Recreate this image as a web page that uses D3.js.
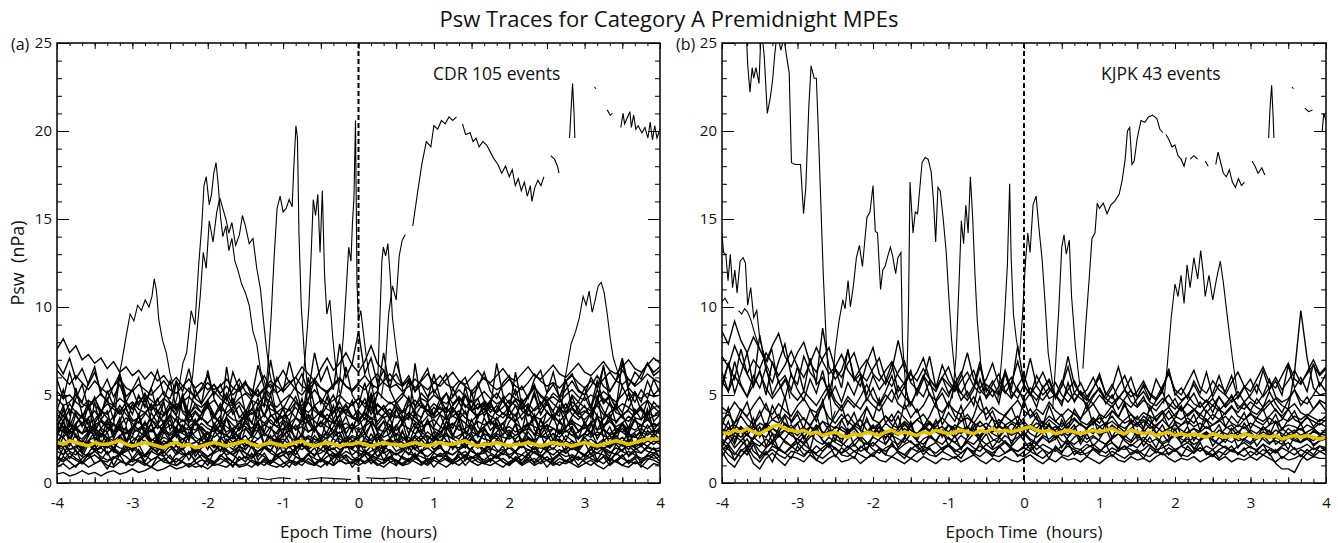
<!DOCTYPE html>
<html><head><meta charset="utf-8">
<script src="https://cdn.jsdelivr.net/npm/d3@7"></script>
<style>
body{margin:0;background:#fff}
svg{display:block}
text{font-family:"Open Sans",Lato,sans-serif;fill:#111}
</style>
</head><body>
<svg id="chart" width="1338" height="543"></svg>
<script>
// Axis ticks
const hourTicks = [-4, -3.5, -3, -2.5, -2, -1.5, -1, -0.5, 0, 0.5, 1, 1.5, 2, 2.5, 3, 3.5, 4];
const pswTicks = [0, 5, 10, 15, 20, 25];
const pswMinorTicks = [1,2,3,4,6,7,8,9,11,12,13,14,16,17,18,19,21,22,23,24];

// Regular traces are sampled every 5 minutes from -4 h to +4 h (97 samples)
const sampleStartHour = -4;
const sampleStepHours = 5 / 60;

// CDR events, Psw (nPa)
const cdrTraces = [
[0.9,1.1,0.8,1.0,1.2,0.9,1.1,1.3,1.0,0.9,1.2,1.1,1.0,1.3,1.1,0.9,1.2,1.4,1.1,1.0,1.2,0.9,1.1,1.3,1.2,1.0,1.1,1.4,1.2,0.9,1.0,1.3,1.1,1.2,1.0,0.9,1.1,1.3,1.2,1.0,1.4,1.1,0.9,1.2,1.0,1.3,1.1,1.2,1.0,1.2,1.4,1.1,0.9,1.2,1.3,1.0,1.1,1.4,1.2,1.0,1.3,1.1,0.9,1.2,1.0,1.3,1.5,1.2,1.1,1.0,1.2,1.4,1.1,1.3,1.0,1.2,1.4,1.1,1.3,1.0,1.2,1.1,1.3,1.5,1.2,1.0,1.3,1.1,1.4,1.2,1.0,1.3,1.1,1.2,1.4,1.3,1.1],
[0.5,0.6,0.4,0.5,0.7,0.5,0.6,0.4,0.6,0.7,0.5,0.6,0.8,0.6,0.7,0.9,0.7,0.8,1.0,0.8,0.9,1.1,0.9,1.0,0.8,1.1,1.0,0.9,1.2,1.0,1.1,0.9,1.2,1.0,1.3,1.1,0.9,1.2,1.0,1.3,1.1,1.0,1.4,1.2,1.0,1.3,1.1,1.2,1.4,1.1,1.3,1.0,1.2,1.5,1.3,1.1,1.4,1.2,1.0,1.3,1.5,1.2,1.4,1.1,1.3,1.6,1.2,1.4,1.1,1.3,1.5,1.2,1.0,1.3,1.1,1.4,1.2,1.6,1.3,1.1,1.4,1.2,1.5,1.3,1.6,1.4,1.2,1.5,1.3,1.7,1.4,1.2,1.5,1.3,1.6,1.4,1.5],
[1.5,1.3,1.7,1.4,1.2,1.6,1.8,1.5,1.3,1.4,1.7,1.5,1.2,1.4,1.6,1.3,1.5,1.8,1.4,1.2,1.5,1.7,1.3,1.6,1.4,1.2,1.5,1.9,1.6,1.3,1.5,1.4,1.7,1.5,1.2,1.4,1.6,1.8,1.5,1.3,1.6,1.4,1.2,1.5,1.7,1.4,1.6,1.3,1.5,1.8,1.6,1.4,1.3,1.5,1.7,1.4,1.2,1.6,1.5,1.3,1.4,1.7,1.5,1.3,1.6,1.8,1.4,1.5,1.3,1.6,1.4,1.7,1.5,1.3,1.6,1.4,1.8,1.5,1.3,1.4,1.7,1.5,1.6,1.4,1.3,1.5,1.7,1.6,1.4,1.2,1.5,1.8,1.6,1.4,1.5,1.7,1.5],
[1.8,1.6,1.9,2.1,1.7,1.5,1.8,2.0,1.7,1.9,1.6,1.8,2.0,1.7,1.5,1.8,1.6,1.9,2.2,1.8,1.6,1.7,2.0,1.8,1.5,1.7,1.9,1.6,1.8,2.1,1.7,1.5,1.8,2.0,1.9,1.6,1.8,1.7,2.0,2.2,1.8,1.6,1.9,1.7,1.5,1.8,2.1,1.9,1.7,1.6,1.8,2.0,1.7,1.9,1.6,1.8,2.2,1.9,1.7,1.5,1.8,2.0,1.7,1.6,1.9,2.1,1.8,1.6,1.7,2.0,1.8,1.9,1.6,1.8,2.1,1.9,1.7,1.5,1.8,2.0,1.7,1.9,2.2,1.8,1.6,1.9,1.7,2.0,1.8,1.6,1.9,2.1,1.8,1.7,2.0,1.9,1.8],
[2.1,2.3,1.9,2.0,2.4,2.2,1.8,2.1,2.5,2.2,2.0,1.9,2.3,2.1,2.4,2.0,1.8,2.2,2.5,2.1,1.9,2.3,2.0,2.2,2.4,2.1,1.9,2.0,2.3,2.6,2.2,2.0,1.8,2.1,2.4,2.2,2.0,2.3,2.1,1.9,2.2,2.5,2.3,2.0,2.2,1.9,2.1,2.4,2.2,2.0,2.3,2.1,1.9,2.4,2.2,2.6,2.3,2.0,2.1,2.3,1.9,2.2,2.4,2.1,2.0,2.3,2.5,2.2,1.9,2.1,2.4,2.2,2.0,2.3,2.1,2.5,2.2,2.0,1.9,2.3,2.1,2.4,2.2,2.0,2.3,2.5,2.2,2.0,2.1,2.4,2.2,1.9,2.3,2.1,2.4,2.6,2.3],
[2.0,2.2,2.5,2.3,2.1,2.4,2.6,2.2,2.0,2.3,2.5,2.1,2.4,2.7,2.3,2.1,2.5,2.2,2.4,2.8,2.5,2.2,2.3,2.6,2.4,2.1,2.5,2.7,2.3,2.6,2.4,2.2,2.5,2.8,2.6,2.3,2.5,2.2,2.4,2.7,2.5,2.3,2.6,2.9,2.5,2.3,2.4,2.7,2.5,2.8,2.4,2.6,2.3,2.5,2.8,2.6,2.4,2.7,2.5,2.9,2.6,2.4,2.7,2.5,2.3,2.6,2.9,2.7,2.5,2.4,2.8,2.6,2.5,2.7,3.0,2.6,2.4,2.7,2.5,2.8,2.6,3.0,2.7,2.5,2.8,2.6,2.9,2.7,2.5,2.8,3.1,2.7,2.6,2.9,2.7,3.0,2.8],
[2.8,2.6,3.0,2.7,2.5,2.9,3.1,2.8,2.6,2.4,2.7,2.9,2.6,2.4,2.8,2.5,2.3,2.6,2.4,2.2,2.5,2.7,2.4,2.2,2.5,2.3,2.1,2.4,2.6,2.3,2.1,2.4,2.2,2.0,2.3,2.5,2.2,2.0,2.3,2.1,1.9,2.2,2.4,2.1,1.9,2.2,2.0,2.3,2.1,2.4,2.2,2.0,2.3,2.5,2.2,2.4,2.6,2.3,2.5,2.7,2.4,2.6,2.8,2.5,2.7,2.9,2.6,2.8,3.0,2.7,2.5,2.8,3.0,2.7,2.9,3.1,2.8,2.6,2.9,3.1,2.8,3.0,2.7,2.9,3.2,2.9,2.7,3.0,2.8,3.1,2.9,2.6,2.9,3.1,2.8,3.0,2.9],
[3.2,2.9,3.4,3.1,2.8,3.0,3.3,3.5,3.1,2.9,3.2,3.0,2.8,3.1,3.4,3.0,2.7,3.0,3.3,3.1,2.9,3.2,3.5,3.1,2.8,3.0,3.3,2.9,3.1,3.4,3.2,2.9,3.0,3.3,3.1,2.8,3.1,3.4,3.0,3.2,2.9,3.1,3.5,3.2,3.0,2.8,3.1,3.3,3.0,3.2,3.5,3.1,2.9,3.2,3.0,3.3,3.1,2.8,3.0,3.4,3.1,2.9,3.2,3.4,3.0,3.1,3.3,2.9,3.2,3.5,3.1,3.0,3.2,2.9,3.1,3.4,3.2,3.0,3.3,3.1,2.9,3.2,3.4,3.0,3.1,3.3,3.0,3.2,3.5,3.1,2.9,3.2,3.0,3.3,3.1,3.4,3.2],
[3.6,3.2,3.0,3.4,3.8,3.3,3.1,3.5,3.2,2.9,3.3,3.7,3.4,3.0,3.3,3.6,3.1,3.4,3.9,3.5,3.2,3.0,3.4,3.7,3.3,3.1,3.5,3.2,2.9,3.4,3.8,3.4,3.1,3.3,3.6,3.2,3.0,3.4,3.7,3.3,3.5,3.1,3.4,3.9,3.5,3.2,3.4,3.1,3.3,3.7,3.4,3.1,3.5,3.3,3.0,3.4,3.8,3.5,3.2,3.4,3.6,3.2,3.0,3.3,3.7,3.4,3.1,3.5,3.3,3.6,3.2,3.4,3.8,3.4,3.1,3.3,3.6,3.2,3.5,3.9,3.4,3.2,3.5,3.3,3.1,3.4,3.7,3.3,3.6,3.2,3.4,3.8,3.5,3.3,3.6,3.2,3.4],
[3.9,3.5,4.2,3.8,3.4,3.7,4.1,3.6,3.3,3.8,4.4,3.9,3.5,3.7,4.0,3.6,3.3,3.9,4.3,3.8,3.5,3.7,4.1,3.7,3.4,3.8,4.5,3.9,3.6,3.5,3.9,4.2,3.7,3.4,3.8,4.0,3.6,3.9,4.3,3.8,3.5,3.7,4.1,3.6,3.4,3.9,4.4,3.8,3.6,4.0,3.7,3.5,3.9,4.2,3.8,3.6,4.0,3.7,3.4,3.8,4.3,3.9,3.6,3.8,4.1,3.7,3.5,3.9,4.2,3.8,3.6,4.0,3.7,3.5,3.9,4.3,3.8,3.6,4.0,3.7,3.5,3.9,4.2,3.8,3.6,4.0,4.4,3.9,3.7,3.5,3.9,4.1,3.7,3.6,4.0,3.8,3.9],
[5.2,4.8,5.0,4.6,4.3,4.7,4.4,4.1,4.5,4.2,3.9,4.3,4.6,4.2,4.0,4.4,4.1,3.8,4.2,4.5,4.1,3.9,4.3,4.0,4.4,4.7,4.2,4.0,4.3,4.6,4.1,3.9,4.2,4.5,4.2,4.0,4.3,4.1,4.6,4.3,4.0,4.4,4.7,4.2,4.0,4.3,4.1,4.5,4.8,4.3,4.1,4.4,4.2,4.6,4.3,4.0,4.4,4.7,4.3,4.1,4.5,4.2,4.0,4.4,4.8,4.4,4.1,4.3,4.6,4.2,4.0,4.3,4.7,4.4,4.2,4.5,4.1,4.4,4.9,4.5,4.2,4.0,4.3,4.6,4.3,4.1,4.5,4.8,4.4,4.2,4.5,4.3,4.0,4.4,4.7,4.3,4.4],
[4.8,4.4,4.6,5.0,4.5,4.3,4.7,5.1,4.6,4.4,4.8,4.5,4.2,4.6,5.0,4.7,4.4,4.8,4.5,4.2,4.6,4.9,4.5,4.3,4.7,5.2,4.8,4.5,4.4,4.8,5.1,4.7,4.5,4.9,4.6,4.3,4.7,5.0,4.6,4.4,4.8,5.3,4.8,4.5,4.7,5.0,4.6,4.4,4.8,4.5,4.9,5.2,4.8,4.5,4.7,5.1,4.7,4.4,4.8,4.6,5.0,4.7,4.5,4.9,5.3,4.9,4.6,4.8,5.2,4.8,4.5,4.7,5.1,4.8,4.6,4.9,5.4,5.0,4.7,4.9,4.6,5.0,5.3,4.9,4.7,5.0,4.8,5.2,4.9,4.6,5.0,5.4,5.0,4.8,5.1,4.9,5.0],
[6.4,6.0,5.6,6.1,5.7,5.3,5.8,5.4,5.1,5.5,5.9,5.4,5.2,5.6,5.3,5.0,5.4,5.8,5.3,5.1,5.5,5.2,4.9,5.3,5.7,5.3,5.5,5.9,5.4,5.2,5.6,5.3,5.0,5.4,5.8,5.5,5.2,5.6,6.0,5.5,5.3,5.7,5.4,5.1,5.5,5.9,5.5,5.2,5.6,5.3,5.8,6.2,5.7,5.4,5.6,5.2,5.5,5.9,5.6,5.3,5.7,6.1,5.6,5.4,5.8,5.5,5.2,5.6,6.0,5.6,5.3,5.5,5.9,5.5,5.3,5.7,6.2,5.8,5.5,5.7,5.4,5.8,6.1,5.7,5.4,5.8,5.5,5.9,6.3,5.8,5.6,5.9,5.5,5.8,6.2,5.9,5.7],
[7.6,8.2,7.4,7.8,7.0,7.3,6.8,7.1,6.5,6.9,6.3,6.6,6.1,6.4,5.9,6.3,5.8,6.1,5.6,6.0,5.5,5.9,5.4,5.7,5.3,5.6,5.1,5.5,5.0,5.4,5.7,5.2,4.9,5.3,5.6,5.1,5.4,5.8,5.3,5.0,5.5,5.9,5.4,5.2,5.6,6.0,5.5,5.3,5.7,6.1,5.6,5.4,5.8,6.2,5.7,5.5,5.9,5.4,5.8,6.2,5.7,5.5,5.9,6.3,5.8,5.6,6.0,6.4,5.9,5.7,6.1,6.5,6.0,5.8,6.2,6.6,6.1,5.9,6.3,6.7,6.2,6.0,6.4,6.8,6.3,6.1,6.5,6.9,6.4,6.2,6.6,7.0,6.5,6.3,6.7,7.1,6.8],
[2.4,2.7,3.5,2.6,2.3,2.8,4.6,3.0,2.5,2.7,3.1,2.4,2.6,3.9,2.8,2.4,2.7,3.3,2.5,2.9,5.1,3.2,2.6,2.4,2.8,3.0,2.5,3.7,2.9,2.6,2.3,2.7,4.3,2.8,2.5,2.9,3.4,2.6,2.4,2.8,5.6,3.1,2.7,2.5,2.9,3.6,2.7,2.4,2.6,3.0,4.8,2.9,2.6,2.8,3.3,2.5,2.7,4.1,2.9,2.6,2.4,2.8,3.5,2.7,2.5,3.0,5.3,3.2,2.8,2.6,2.9,3.4,2.7,2.5,2.9,4.5,3.0,2.7,2.6,3.1,2.8,3.8,2.9,2.6,2.8,3.2,5.0,3.1,2.7,2.9,3.4,2.8,2.6,3.0,4.2,3.0,2.8],
[3.3,3.8,3.5,5.4,3.9,3.4,3.6,4.1,3.7,3.3,6.2,4.2,3.6,3.4,3.9,4.5,3.8,3.5,3.7,5.8,4.0,3.6,3.4,3.9,4.3,3.7,3.5,6.6,4.4,3.8,3.6,4.0,3.7,5.2,3.9,3.5,3.8,4.2,3.7,3.5,6.0,4.3,3.8,3.6,4.0,4.6,3.9,3.7,3.5,4.1,5.7,4.0,3.7,3.9,4.4,3.8,3.6,6.8,4.5,3.9,3.7,4.0,4.3,3.8,3.6,5.5,4.1,3.8,4.0,4.6,3.9,3.7,4.1,6.3,4.4,3.9,3.7,4.2,4.7,4.0,3.8,5.9,4.3,3.9,4.1,3.8,4.5,6.7,4.6,4.0,3.8,4.2,5.1,4.1,3.9,4.3,4.0],
[1.9,2.2,1.8,1.6,2.0,2.3,1.9,1.7,2.1,1.8,1.6,1.9,2.2,1.8,1.6,2.0,1.7,1.5,1.9,2.1,1.7,1.6,1.9,1.7,1.5,1.8,2.1,1.8,1.6,1.9,1.7,1.5,1.8,2.0,1.7,1.5,1.8,1.6,1.9,2.2,1.8,1.6,1.7,2.0,1.7,1.5,1.8,1.6,1.9,1.7,1.5,1.8,2.1,1.8,1.6,1.9,1.7,1.5,1.8,2.0,1.7,1.5,1.8,1.6,1.9,2.2,1.8,1.6,1.9,1.7,1.5,1.8,2.0,1.7,1.6,1.9,1.7,2.1,1.8,1.6,1.9,1.7,2.0,1.8,1.6,1.9,2.2,1.9,1.7,2.0,1.8,1.6,1.9,2.1,1.8,1.7,1.9],
[3.1,2.9,3.3,3.0,2.8,3.2,2.9,2.7,3.1,3.4,3.0,2.8,3.1,2.9,2.7,3.0,3.3,2.9,2.7,3.0,2.8,2.6,2.9,3.2,2.8,2.6,2.9,2.7,2.5,2.8,3.1,2.7,2.5,2.8,2.6,2.4,2.7,3.0,2.6,2.4,2.7,2.5,2.3,2.6,2.9,2.5,2.3,2.6,2.4,2.2,2.5,2.8,2.4,2.2,2.5,2.3,2.1,2.4,2.7,2.3,2.1,2.4,2.2,2.0,2.3,2.6,2.2,2.0,2.3,2.1,2.4,2.2,2.0,2.3,2.5,2.1,1.9,2.2,2.0,2.3,2.5,2.1,1.9,2.2,2.4,2.1,1.9,2.2,2.0,2.3,2.6,2.2,2.0,2.3,2.1,2.4,2.2],
[4.2,3.8,4.5,4.0,3.7,4.3,4.8,4.1,3.9,4.4,4.0,4.6,4.2,4.9,4.4,4.1,4.7,5.2,4.6,4.3,4.9,5.4,4.8,4.5,5.1,5.6,5.0,4.7,5.3,5.9,5.2,4.9,5.5,6.1,5.4,5.8,6.4,5.7,6.0,6.6,6.2,5.8,6.5,7.1,6.4,6.8,7.4,6.7,6.3,6.9,7.8,6.8,6.4,5.8,6.2,5.5,5.9,5.2,5.6,4.9,5.3,4.7,5.1,4.5,4.9,4.3,4.7,4.2,4.6,4.0,4.4,3.9,4.3,4.7,4.1,3.8,4.2,4.6,4.0,3.7,4.1,4.5,3.9,3.6,4.0,4.4,3.8,3.6,4.0,4.3,3.7,3.5,3.9,4.2,3.6,3.8,4.1],
[1.4,1.2,1.5,1.3,1.1,1.4,1.6,1.3,1.2,1.5,1.3,1.1,1.4,1.2,1.0,1.3,1.5,1.2,1.1,1.4,1.2,1.0,1.3,1.6,1.3,1.1,1.4,1.2,1.0,1.3,1.5,1.2,1.0,1.3,1.1,1.4,1.6,1.3,1.1,1.4,1.2,1.0,1.3,1.1,1.4,1.7,1.3,1.1,1.4,1.2,1.5,1.3,1.1,1.4,1.2,1.0,1.3,1.5,1.2,1.1,1.4,1.6,1.3,1.1,1.3,1.5,1.2,1.0,1.2,1.4,1.1,0.9,1.2,1.4,1.1,1.3,1.0,1.2,1.5,1.2,1.0,1.3,1.1,0.9,1.1,1.3,1.0,0.8,1.1,1.3,1.0,0.9,1.2,1.0,0.8,1.1,1.0],
[2.3,2.0,2.6,2.2,1.9,2.4,2.1,2.8,2.3,2.0,2.5,2.2,1.9,2.3,2.7,2.2,2.0,2.4,2.1,1.8,2.3,2.9,2.4,2.1,2.3,2.0,2.6,2.2,1.9,2.4,2.7,2.2,2.0,2.3,2.1,2.5,2.9,2.3,2.0,2.2,2.6,2.1,1.9,2.4,2.2,2.7,2.3,2.0,2.4,2.1,2.8,2.3,2.0,2.5,2.2,1.9,2.3,2.6,2.2,2.0,2.4,2.9,2.4,2.1,2.3,2.0,2.5,2.2,1.9,2.4,2.7,2.2,2.0,2.4,2.1,2.6,2.3,2.0,2.5,2.8,2.3,2.1,2.4,2.2,2.6,2.2,2.0,2.4,2.7,2.3,2.1,2.5,2.2,2.8,2.4,2.2,2.5],
[2.9,3.2,2.8,3.1,3.4,3.0,2.7,3.1,2.9,3.3,3.0,2.8,3.2,3.5,3.1,2.9,3.3,3.0,2.8,3.2,3.6,3.2,3.0,3.4,3.1,2.9,3.3,3.7,3.3,3.0,3.4,3.1,3.5,3.9,3.4,3.2,3.6,3.3,3.1,3.5,3.9,3.5,3.2,3.6,3.4,3.8,4.2,3.7,3.5,3.9,3.6,4.0,4.4,3.9,3.7,4.1,3.8,4.2,4.6,4.1,3.9,4.3,4.0,4.4,4.9,4.4,4.1,4.5,4.2,4.7,5.1,4.6,4.3,4.8,4.5,5.0,5.5,4.9,4.6,5.1,4.8,5.3,5.8,5.2,5.0,5.5,6.1,5.5,5.2,5.8,6.4,5.9,5.6,6.2,6.8,6.3,6.6],
[1.2,2.0,1.4,1.9,1.1,1.7,2.2,1.3,1.8,1.0,1.6,2.1,1.4,1.9,1.2,1.8,2.3,1.5,1.1,1.7,2.0,1.3,1.9,1.4,1.0,1.8,2.2,1.5,1.2,1.9,1.4,2.1,1.3,1.7,1.1,1.8,2.2,1.4,1.9,1.2,1.6,2.0,1.3,1.8,1.1,1.7,2.3,1.5,1.2,1.9,1.4,2.0,1.3,1.8,1.0,1.6,2.1,1.4,1.9,1.2,1.7,2.2,1.5,1.1,1.8,1.3,2.0,1.5,1.9,1.2,1.7,2.1,1.4,1.8,1.1,1.6,2.2,1.4,1.9,1.3,1.7,2.0,1.2,1.8,1.5,2.1,1.3,1.9,1.2,1.7,2.3,1.5,1.8,1.1,1.6,2.0,1.4],
[2.0,3.1,2.4,3.3,1.9,2.7,3.4,2.2,2.9,1.8,2.6,3.2,2.1,2.8,3.5,2.3,1.9,2.9,2.4,3.2,2.0,2.7,3.6,2.5,1.9,2.8,3.3,2.2,2.9,2.0,3.1,2.6,3.4,2.1,2.7,1.9,2.9,3.5,2.3,2.8,2.0,3.2,2.4,2.9,3.6,2.2,2.6,2.0,3.0,2.5,3.4,2.1,2.8,3.3,2.3,3.0,1.9,2.7,3.5,2.4,2.9,2.1,3.2,2.6,3.6,2.3,2.8,2.0,3.1,2.5,3.4,2.2,2.7,3.3,2.1,2.9,2.4,3.6,2.7,2.2,3.0,2.4,3.2,2.0,2.8,3.5,2.5,3.1,2.2,2.9,3.4,2.3,2.8,2.1,3.0,2.6,3.1],
[3.0,4.2,2.8,3.9,3.2,4.4,2.9,3.6,4.1,2.7,3.5,4.3,3.1,3.8,2.8,4.0,3.4,4.6,3.0,3.7,2.9,4.1,3.3,3.9,4.5,3.2,2.8,3.8,4.2,3.0,3.6,4.7,3.3,2.9,3.9,3.4,4.3,3.0,3.7,4.8,3.4,2.9,4.0,3.5,4.4,3.1,3.8,2.9,4.1,3.6,4.9,3.3,3.8,2.9,4.2,3.5,4.0,3.1,3.7,4.6,3.2,3.9,3.0,4.3,3.6,4.1,2.9,3.8,4.5,3.3,3.7,3.0,4.2,3.5,4.8,3.2,3.9,2.9,4.1,3.6,4.4,3.1,3.8,4.3,3.3,4.0,3.0,3.7,4.6,3.4,3.9,3.1,4.2,3.6,4.7,3.5,3.9],
[4.1,5.3,3.9,4.8,5.6,4.2,4.9,3.8,5.2,4.4,6.1,4.6,3.9,5.0,4.3,5.4,4.0,4.7,5.8,4.2,4.9,3.9,5.3,4.5,6.4,4.8,4.1,5.1,4.4,5.6,4.0,4.8,5.3,4.3,7.0,5.1,4.2,4.9,5.5,4.1,4.7,5.9,4.5,5.2,4.0,4.8,6.6,5.0,4.4,5.7,4.2,5.0,7.4,5.3,4.5,4.9,5.8,4.3,5.1,4.7,6.2,4.8,4.1,5.4,4.6,5.0,4.2,5.7,4.7,4.3,6.8,5.0,4.5,5.3,4.2,4.9,5.6,4.4,5.1,6.3,4.8,4.2,5.0,4.6,5.4,4.3,5.8,4.6,5.0,4.2,6.9,5.2,4.6,5.3,4.8,5.9,5.1],
[1.0,1.5,1.2,0.9,1.4,1.7,1.1,1.3,0.8,1.4,1.6,1.0,1.3,1.7,1.1,0.9,1.5,1.2,1.6,1.0,1.3,1.8,1.2,0.9,1.4,1.1,1.6,1.3,0.9,1.5,1.2,1.7,1.0,1.4,1.1,1.6,1.2,0.9,1.5,1.3,1.7,1.1,1.4,1.0,1.6,1.2,1.5,0.9,1.3,1.6,1.1,1.4,1.8,1.2,1.0,1.5,1.3,1.7,1.1,1.4,0.9,1.3,1.6,1.2,1.5,1.0,1.4,1.7,1.1,1.3,1.6,1.2,1.0,1.5,1.3,1.7,1.1,1.4,0.9,1.3,1.6,1.2,1.5,1.0,1.4,1.7,1.2,1.5,1.0,1.3,1.6,1.1,1.4,0.9,1.3,1.6,1.2],
[2.6,3.5,2.3,3.2,2.8,3.7,2.4,3.1,3.6,2.5,3.3,2.2,3.0,3.8,2.7,3.4,2.3,3.1,3.6,2.6,3.2,2.4,3.5,2.9,2.3,3.3,3.8,2.7,3.1,2.5,3.6,2.8,3.4,2.2,3.0,3.7,2.6,3.3,2.4,3.9,2.9,3.2,2.5,3.6,2.7,3.4,2.3,3.1,3.8,2.8,3.3,2.4,3.0,3.7,2.6,3.5,2.2,3.2,2.9,3.6,2.5,3.1,3.9,2.7,3.3,2.4,3.6,2.8,3.2,2.5,3.7,3.0,2.6,3.4,2.3,3.1,3.8,2.7,3.3,2.4,3.6,2.9,3.2,2.5,3.5,2.8,3.9,2.6,3.2,2.4,3.4,3.0,3.7,2.7,3.3,2.8,3.2],
[3.5,4.4,3.2,4.1,3.7,4.6,3.4,4.0,4.8,3.6,4.2,3.3,4.5,3.8,4.9,3.5,4.1,3.3,4.4,3.9,4.7,3.4,4.0,3.6,4.6,3.9,3.3,4.3,4.8,3.7,4.1,3.4,4.5,3.8,5.0,3.6,4.2,3.5,4.6,4.0,3.4,4.4,3.8,4.9,3.6,4.3,3.9,4.7,3.5,4.1,5.1,3.9,4.4,3.6,4.2,3.4,4.7,4.0,3.7,4.5,3.9,4.8,3.6,4.3,3.8,5.0,4.1,3.7,4.5,3.5,4.2,4.9,3.8,4.4,3.6,4.1,5.2,3.9,4.6,3.7,4.3,3.8,4.9,4.0,4.4,3.7,4.8,4.1,3.6,4.5,4.0,5.1,3.9,4.3,3.8,4.6,4.2],
[1.9,2.6,2.1,2.8,1.7,2.4,2.9,2.0,2.5,1.8,2.7,2.2,1.8,2.5,3.0,2.1,2.6,1.9,2.4,2.8,2.0,2.3,1.7,2.6,2.9,2.2,1.8,2.5,2.1,2.7,1.9,2.4,3.0,2.2,1.8,2.6,2.3,2.8,1.9,2.5,2.0,2.7,2.3,1.8,2.6,2.9,2.1,2.4,1.9,2.6,2.2,2.8,1.8,2.4,2.1,2.9,2.3,1.9,2.5,2.0,2.7,2.2,2.9,1.9,2.4,2.0,2.6,2.3,2.8,1.8,2.5,2.1,2.9,2.3,2.0,2.6,2.2,2.8,1.9,2.5,2.1,2.7,2.4,1.9,2.6,2.9,2.2,2.5,2.0,2.7,2.3,2.9,2.1,2.6,2.4,2.8,2.5],
[5.9,4.8,6.3,5.1,4.6,5.7,6.6,5.0,4.7,5.5,6.2,4.9,5.3,6.0,4.6,5.4,6.4,5.0,4.8,5.8,5.2,6.5,4.9,5.4,6.1,5.0,5.6,4.7,6.3,5.3,5.8,4.9,6.7,5.4,5.0,6.0,5.2,6.9,5.5,6.2,5.1,7.4,5.8,6.6,5.3,7.9,6.0,6.8,8.6,6.2,7.1,5.7,6.4,5.4,6.9,5.6,6.1,5.2,5.9,6.5,5.1,5.7,6.2,4.9,5.6,6.0,5.0,5.4,6.3,5.2,4.8,5.7,6.1,5.0,5.5,4.8,5.9,6.4,5.1,5.6,4.9,5.8,6.2,5.3,5.0,6.0,5.4,6.6,5.2,5.8,7.1,5.5,6.3,5.9,6.8,6.1,6.4],
[2.8,3.6,2.5,3.3,3.9,2.7,3.2,2.6,3.5,2.9,3.7,2.4,3.1,3.8,2.7,3.4,2.5,3.2,3.9,2.8,3.3,2.6,3.6,3.0,2.5,3.4,2.9,3.7,2.6,3.1,4.0,2.8,3.5,2.7,3.2,2.5,3.6,2.9,3.3,2.6,3.8,3.0,3.5,2.7,3.2,3.9,2.8,3.4,2.6,3.3,3.7,2.9,3.5,2.5,3.2,3.8,2.8,3.4,2.7,3.6,3.0,2.6,3.5,3.1,3.9,2.8,3.3,2.6,3.7,3.0,3.4,2.7,3.5,3.9,2.9,3.3,2.7,3.6,3.0,3.8,2.8,3.2,3.6,2.9,3.4,2.7,3.7,3.1,3.9,2.9,3.3,2.8,3.6,3.2,3.8,3.0,3.5],
[2.1,1.6,2.3,1.8,1.5,2.2,1.9,2.4,1.6,2.0,1.7,2.3,1.8,2.2,1.5,2.0,2.4,1.7,2.1,1.6,1.9,2.3,1.5,2.0,2.2,1.7,2.4,1.8,1.6,2.1,1.9,2.3,1.5,2.0,1.8,2.4,1.7,2.1,1.6,2.2,1.9,1.5,2.3,1.8,2.0,1.6,2.2,1.9,2.4,1.7,2.1,1.5,1.9,2.3,1.8,2.0,1.6,2.2,1.7,2.4,1.9,2.1,1.6,2.3,1.8,1.5,2.0,2.2,1.7,2.4,1.9,1.6,2.1,1.8,2.3,1.6,2.0,1.7,2.2,1.9,2.4,1.7,2.0,1.8,2.3,1.6,2.1,1.9,1.5,2.2,1.8,2.4,2.0,1.7,2.1,1.9,2.0],
[6.8,6.2,7.1,5.9,6.5,5.6,6.3,5.2,5.9,4.9,5.6,4.6,5.3,4.4,5.1,4.2,4.8,3.9,4.6,4.1,5.0,3.8,4.5,4.0,4.7,3.7,4.3,4.9,3.9,4.4,3.6,4.2,4.8,3.8,4.5,4.0,3.7,4.3,4.9,3.9,4.6,4.1,3.8,4.4,5.0,4.0,4.5,3.7,4.2,4.8,3.9,4.5,4.1,3.7,4.6,4.0,4.9,3.8,4.4,4.1,3.8,4.5,5.1,4.0,4.6,3.9,4.3,4.8,3.8,4.4,4.0,4.7,4.1,3.8,4.6,4.2,5.0,3.9,4.5,4.1,4.8,4.0,4.6,4.3,4.9,4.2,5.3,4.5,4.9,4.3,5.5,4.7,5.2,4.6,5.8,5.0,5.4]
];

// CDR bursts and gapped traces: [hour, Psw]; null marks a data gap
const cdrBursts = [
[[-3.2,5.6],[-3.14,6.9],[-3.08,8.4],[-3.03,9.6],[-2.98,9.2],[-2.93,10.1],[-2.88,9.8],[-2.83,10.4],[-2.78,10.0],[-2.74,10.6],[-2.71,11.6],[-2.68,10.9],[-2.65,9.3],[-2.6,8.1],[-2.55,7.4],[-2.5,6.2],[-2.44,5.3]],
[[-2.45,4.2],[-2.4,5.0],[-2.33,6.8],[-2.28,7.4],[-2.22,9.8],[-2.17,9.0],[-2.12,12.4],[-2.08,14.6],[-2.05,16.9],[-2.02,17.4],[-1.98,15.8],[-1.95,16.4],[-1.92,17.6],[-1.89,18.2],[-1.86,16.9],[-1.83,15.1],[-1.8,14.0],[-1.76,14.6],[-1.72,13.2],[-1.68,13.9],[-1.64,12.6],[-1.6,12.1],[-1.55,11.3],[-1.5,10.8],[-1.45,10.1],[-1.4,8.6],[-1.35,7.9],[-1.3,6.4],[-1.25,5.8],[-1.2,4.9],[-1.15,5.3],[-1.1,4.1]],
[[-2.3,3.6],[-2.25,4.8],[-2.2,6.1],[-2.15,8.3],[-2.1,10.6],[-2.06,13.1],[-2.02,12.2],[-1.98,14.9],[-1.93,13.7],[-1.88,15.4],[-1.84,16.2],[-1.8,15.6],[-1.76,15.0],[-1.72,14.2],[-1.68,14.8],[-1.63,13.5],[-1.58,14.1],[-1.54,15.2],[-1.5,14.6],[-1.45,13.6],[-1.4,13.9],[-1.35,12.2],[-1.3,11.0],[-1.26,9.2],[-1.22,7.6],[-1.18,6.3],[-1.12,5.1]],
[[-1.25,4.4],[-1.2,6.7],[-1.16,9.4],[-1.12,12.8],[-1.08,15.6],[-1.04,16.3],[-1.0,15.4],[-0.96,15.6],[-0.92,16.1],[-0.88,15.7],[-0.86,17.8],[-0.83,20.3],[-0.81,19.6],[-0.79,14.2],[-0.76,10.1],[-0.72,7.4],[-0.68,5.6],[-0.62,4.8]],
[[-0.75,5.2],[-0.7,7.6],[-0.66,9.9],[-0.63,12.8],[-0.6,16.1],[-0.57,15.2],[-0.54,16.4],[-0.51,13.1],[-0.48,16.6],[-0.45,11.8],[-0.42,9.6],[-0.38,10.4],[-0.34,8.2],[-0.3,6.5],[-0.25,5.1]],
[[-0.3,4.6],[-0.25,5.8],[-0.2,8.4],[-0.16,11.2],[-0.13,13.4],[-0.1,12.6],[-0.08,14.8],[-0.06,16.2],[-0.04,20.6],[-0.02,11.3],[0.0,9.2],[0.03,9.8],[0.06,8.7],[0.1,7.3],[0.14,6.2],[0.2,5.4]],
[[0.2,3.9],[0.25,5.2],[0.28,8.9],[0.31,12.6],[0.33,13.4],[0.36,12.9],[0.39,13.6],[0.42,11.8],[0.45,9.4],[0.5,7.6],[0.55,6.1],[0.6,5.0]],
[[0.3,4.8],[0.35,6.2],[0.4,9.6],[0.45,11.2],[0.5,10.4],[0.54,12.9],[0.58,13.8],[0.62,14.1],null,[0.72,14.6],[0.78,16.4],[0.84,18.1],[0.9,19.4],[0.96,19.1],[1.0,20.3],[1.05,20.1],[1.1,20.6],[1.15,20.4],[1.2,20.8],[1.25,20.6],[1.3,20.8],null,[1.38,20.4],[1.42,19.8],[1.48,19.9],[1.52,19.4],[1.56,19.6],[1.6,19.1],[1.65,19.4],[1.7,19.2],[1.75,18.8],[1.8,18.4],[1.85,18.1],[1.9,17.6],[1.95,18.0],[2.0,17.4],[2.04,17.8],[2.08,16.9],[2.12,17.3],[2.16,16.6],[2.2,17.1],[2.24,16.3],[2.28,16.9],[2.3,16.0],[2.34,16.8],[2.38,17.2],[2.42,16.9],[2.46,17.4],null,[2.55,18.6],[2.6,18.4],[2.64,18.0],[2.66,17.6],null,[2.8,19.6],[2.82,21.2],[2.84,22.7],[2.86,21.0],[2.87,19.6],null,[3.13,22.5],[3.15,22.4],null,[3.3,21.2],[3.34,20.9],[3.37,21.0],null,[3.48,20.2],[3.51,21.0],[3.53,20.4],[3.56,20.7],[3.6,21.1],[3.62,20.2],[3.65,20.9],[3.68,20.1],[3.71,20.3],[3.76,19.9],[3.8,20.2],[3.84,19.6],[3.87,20.5],[3.9,19.5],[3.93,20.3],[3.96,19.6],[4.0,20.1]],
[[2.7,5.1],[2.76,6.4],[2.82,7.9],[2.88,8.6],[2.93,9.4],[2.98,10.6],[3.02,10.1],[3.06,10.9],[3.1,9.7],[3.14,10.4],[3.18,11.2],[3.22,11.4],[3.26,10.8],[3.3,9.6],[3.34,8.2],[3.38,7.1],[3.44,6.3],[3.5,5.4]],
[[-1.6,0.3],[-1.5,0.25],null,[-1.35,0.3],[-1.2,0.2],[-1.05,0.3],[-0.9,0.25],null,[-0.7,0.2],[-0.5,0.3],[-0.3,0.25],[-0.1,0.2],null,[0.1,0.3],[0.3,0.25],[0.5,0.3],[0.7,0.2],null,[0.85,0.25],[0.95,0.3]]
];

// CDR median trace
const cdrMedian = [2.3,2.2,2.4,2.3,2.2,2.1,2.3,2.2,2.2,2.3,2.4,2.2,2.1,2.2,2.3,2.2,2.1,2.0,2.2,2.3,2.1,2.2,2.0,2.1,2.2,2.3,2.2,2.1,2.2,2.3,2.4,2.2,2.1,2.2,2.3,2.2,2.1,2.2,2.3,2.4,2.2,2.1,2.2,2.3,2.2,2.1,2.2,2.2,2.3,2.2,2.1,2.2,2.3,2.2,2.2,2.1,2.2,2.3,2.2,2.1,2.2,2.3,2.2,2.2,2.3,2.4,2.2,2.1,2.2,2.2,2.3,2.2,2.1,2.2,2.2,2.3,2.2,2.1,2.2,2.3,2.2,2.2,2.1,2.2,2.3,2.2,2.1,2.2,2.3,2.4,2.3,2.2,2.3,2.4,2.5,2.5,2.5];

// KJPK events, Psw (nPa)
const kjpkTraces = [
[1.8,1.2,0.9,1.5,1.9,1.1,0.8,1.4,1.7,1.3,1.0,1.5,1.4,1.2,1.6,1.3,1.1,1.4,1.6,1.2,1.3,1.5,1.1,1.4,1.6,1.3,1.2,1.5,1.3,1.1,1.4,1.2,1.5,1.3,1.1,1.4,1.3,1.5,1.2,1.4,1.6,1.3,1.1,1.4,1.2,1.5,1.3,1.2,1.4,1.6,1.3,1.1,1.4,1.2,1.5,1.3,1.4,1.2,1.5,1.3,1.1,1.4,1.6,1.3,1.2,1.5,1.3,1.4,1.2,1.5,1.7,1.4,1.2,1.4,1.3,1.5,1.2,1.4,1.6,1.3,1.5,1.2,1.4,1.3,1.5,1.3,1.6,1.4,1.2,1.5,1.3,1.4,1.6,1.3,1.5,1.4,1.4],
[2.0,1.6,1.3,1.8,2.1,1.5,1.2,1.7,1.9,1.6,1.4,1.8,1.7,1.5,1.9,1.6,1.4,1.7,2.0,1.6,1.5,1.8,1.6,1.4,1.7,1.9,1.6,1.5,1.8,1.6,1.4,1.7,1.9,1.6,1.5,1.8,1.6,1.4,1.7,2.0,1.7,1.5,1.8,1.6,1.5,1.7,1.9,1.6,1.5,1.8,1.6,1.4,1.7,1.9,1.6,1.5,1.8,1.6,1.7,1.9,1.6,1.5,1.8,1.6,1.4,1.7,1.9,1.6,1.5,1.8,1.6,1.7,1.9,1.6,1.5,1.8,2.0,1.7,1.5,1.8,1.6,1.9,1.7,1.5,1.8,1.6,1.9,1.7,1.1,0.8,0.8,0.6,1.3,1.7,1.5,1.8,1.6],
[1.9,2.2,1.7,1.5,2.0,2.3,1.8,1.6,2.1,1.9,1.7,2.0,2.3,1.9,1.7,2.1,1.8,2.2,2.0,1.7,1.9,2.2,1.8,2.0,2.3,2.0,1.8,2.1,1.9,2.2,2.4,2.0,1.8,2.1,2.3,1.9,2.1,1.8,2.0,2.3,2.0,1.8,2.2,1.9,2.1,2.4,2.0,1.8,2.1,2.3,1.9,2.2,2.0,1.8,2.1,2.4,2.0,1.9,2.2,2.0,1.8,2.1,2.3,2.0,1.9,2.2,2.0,2.4,2.1,1.9,2.0,2.2,1.9,2.1,2.3,2.0,1.8,2.1,1.9,2.2,2.0,1.8,2.1,2.3,2.0,1.9,2.2,2.0,1.8,2.1,2.3,1.9,2.0,2.2,1.9,2.1,2.0],
[2.5,2.2,2.7,2.4,2.1,2.6,2.3,2.0,2.4,2.8,2.3,2.1,2.5,2.2,2.6,2.9,2.4,2.2,2.5,2.3,2.0,2.4,2.7,2.3,2.1,2.5,2.8,2.4,2.2,2.6,2.3,2.1,2.5,2.7,2.4,2.2,2.6,2.3,2.0,2.4,2.8,2.5,2.2,2.4,2.6,2.3,2.1,2.5,2.8,2.4,2.2,2.6,2.3,2.5,2.9,2.4,2.2,2.5,2.3,2.6,2.4,2.2,2.5,2.8,2.4,2.1,2.4,2.6,2.3,2.5,2.2,2.4,2.7,2.3,2.5,2.2,2.4,2.8,2.4,2.2,2.5,2.3,2.6,2.4,2.2,2.5,2.7,2.3,2.4,2.2,2.6,2.4,2.3,2.5,2.2,2.4,2.5],
[3.0,2.6,2.8,3.2,2.7,2.5,2.9,3.3,2.8,2.6,3.0,2.7,2.5,2.9,3.2,2.8,2.6,3.0,2.7,2.5,2.8,3.1,2.7,2.9,3.3,2.8,2.6,2.9,2.7,3.1,2.8,2.6,3.0,3.4,2.9,2.7,2.9,2.6,3.0,3.2,2.8,2.7,3.1,2.8,2.6,3.0,2.7,2.9,3.2,2.8,2.6,2.9,3.3,2.9,2.7,3.0,2.8,2.6,2.9,3.1,2.7,2.9,3.2,2.8,2.6,3.0,2.7,2.9,3.3,2.8,2.7,3.0,2.8,2.6,2.9,3.1,2.7,2.9,2.6,3.0,2.8,2.7,2.9,3.2,2.8,2.6,2.9,2.7,3.0,2.8,2.6,2.9,3.1,2.7,2.9,2.8,2.7],
[3.5,3.1,3.4,3.8,3.3,3.0,3.4,3.2,3.6,3.9,3.3,3.1,3.4,3.7,3.2,3.0,3.5,3.3,3.1,3.6,3.9,3.4,3.2,3.5,3.1,3.4,3.8,3.3,3.1,3.5,3.2,3.6,3.3,3.0,3.4,3.7,3.3,3.1,3.5,3.9,3.4,3.2,3.4,3.1,3.6,3.3,3.5,3.8,3.3,3.1,3.4,3.2,3.6,3.3,3.0,3.4,3.7,3.3,3.1,3.5,3.2,3.4,3.8,3.3,3.1,3.4,3.2,3.5,3.1,3.3,3.6,3.2,3.0,3.3,3.5,3.2,3.4,3.1,3.3,3.6,3.2,3.0,3.3,3.1,3.4,3.2,3.0,3.3,3.5,3.1,3.3,3.2,3.0,3.3,3.1,3.4,3.2],
[5.8,5.2,6.1,5.5,4.9,5.6,6.3,5.4,4.8,5.3,5.9,5.1,4.7,5.2,4.8,4.4,5.0,5.6,4.7,4.3,4.9,4.5,4.2,4.8,4.4,4.1,4.7,5.3,4.5,4.2,4.6,4.0,4.4,5.1,4.3,4.0,4.5,4.1,3.9,4.4,4.9,4.2,3.9,4.3,4.0,3.8,4.3,4.7,4.1,3.8,4.2,3.9,4.6,4.1,3.8,4.2,3.9,3.7,4.1,4.5,3.9,3.7,4.1,3.8,4.4,3.9,3.6,4.0,3.8,3.6,4.0,4.3,3.8,3.6,3.9,4.2,3.7,3.5,3.9,3.6,4.0,4.4,3.8,3.6,3.9,3.7,3.5,3.8,4.2,3.7,3.5,3.8,3.6,3.9,3.7,3.5,3.8],
[7.2,6.6,7.8,6.9,6.2,7.0,6.5,7.4,6.8,6.1,6.7,7.5,6.6,6.0,6.8,7.7,6.9,6.2,6.6,7.3,6.4,5.9,6.5,7.0,6.2,5.8,6.4,6.9,6.1,5.6,6.2,5.8,6.5,5.9,5.4,6.0,5.6,5.2,5.8,6.3,5.5,5.1,5.6,5.3,5.0,5.5,6.0,5.2,4.9,5.4,5.0,4.7,5.2,5.7,5.0,4.6,5.1,4.8,4.5,5.0,5.4,4.8,4.5,4.9,4.6,4.3,4.8,5.2,4.6,4.4,4.8,4.5,4.2,4.6,5.0,4.5,4.3,4.7,4.4,4.1,4.5,4.9,4.4,4.2,4.6,4.3,4.1,4.5,4.8,4.4,4.2,6.3,9.8,7.1,5.4,5.0,5.1],
[5.4,6.8,5.9,7.6,6.2,5.5,8.4,6.4,5.7,6.9,7.9,6.1,5.6,7.2,6.3,5.8,8.8,6.6,5.9,6.4,7.5,6.0,5.5,6.8,7.7,6.2,5.6,6.4,8.1,6.5,5.8,6.3,7.1,5.9,5.4,6.7,5.8,5.3,6.1,7.4,5.9,5.4,5.9,6.8,5.6,5.1,5.7,6.9,5.5,5.0,5.6,6.3,5.4,4.9,5.5,7.2,5.6,5.0,5.3,6.0,5.2,4.8,5.4,6.6,5.3,4.9,5.2,5.8,5.0,4.7,5.3,6.4,5.1,4.7,5.0,5.6,4.9,4.6,5.1,6.1,5.0,4.6,4.9,5.5,4.8,4.5,5.0,5.9,4.9,4.6,4.8,5.3,4.7,4.5,5.0,5.7,5.2],
[3.6,3.9,3.4,4.2,3.7,3.3,3.8,4.5,3.6,3.4,3.9,3.5,4.1,3.6,3.3,3.8,4.4,3.7,3.4,3.9,3.5,3.2,3.7,4.3,3.6,3.4,3.8,3.5,4.1,3.7,3.3,3.6,3.9,3.4,3.2,3.7,4.6,3.8,3.5,3.7,3.4,3.9,4.3,3.6,3.4,3.8,3.5,3.3,3.7,4.2,3.6,3.4,3.8,3.5,3.2,3.6,4.0,3.5,3.3,3.7,3.4,3.9,4.4,3.7,3.4,3.6,3.3,3.8,3.5,3.2,3.6,4.1,3.5,3.3,3.7,3.4,3.9,3.6,3.3,3.5,3.8,3.4,3.2,3.6,4.0,3.5,3.3,3.7,3.4,3.6,4.2,3.6,3.4,3.7,3.5,3.3,3.6],
[2.2,2.6,2.0,2.4,2.8,2.3,2.1,2.5,2.2,2.7,2.4,2.1,2.5,2.3,2.8,2.4,2.2,2.6,2.3,2.1,2.5,2.9,2.4,2.2,2.6,2.4,2.2,2.7,2.5,2.3,2.8,2.4,2.2,2.6,2.4,2.9,2.5,2.3,2.7,2.4,2.2,2.6,3.0,2.5,2.3,2.7,2.4,2.6,2.9,2.5,2.3,2.7,2.5,2.8,2.4,2.2,2.6,2.9,2.5,2.7,2.4,2.2,2.6,2.8,2.5,2.3,2.7,2.4,2.9,2.6,2.3,2.5,2.8,2.5,2.3,2.6,2.4,2.7,2.5,2.2,2.6,2.8,2.4,2.5,2.3,2.7,2.5,2.2,2.6,2.4,2.8,2.5,2.3,2.6,2.4,2.7,2.5],
[4.3,4.0,4.6,4.1,3.8,4.4,4.9,4.2,3.9,4.5,4.1,3.8,4.4,4.8,4.2,4.0,4.6,5.3,4.5,4.1,4.7,4.3,4.9,5.6,4.8,4.4,5.0,4.6,5.5,4.9,4.5,5.2,6.1,5.0,4.7,5.4,4.9,5.8,5.1,4.7,5.3,6.6,5.4,4.9,5.5,6.2,5.2,4.8,5.6,7.1,5.5,5.0,5.4,4.9,5.8,5.1,4.7,5.2,4.8,4.5,5.0,4.6,4.3,4.8,5.3,4.6,4.3,4.7,4.4,4.1,4.6,5.0,4.4,4.1,4.5,4.2,3.9,4.4,4.8,4.2,3.9,4.3,4.0,4.5,4.1,3.9,4.3,4.7,4.1,3.8,4.2,4.5,4.0,3.8,4.2,4.6,4.1],
[2.4,1.9,1.6,2.1,2.5,1.8,1.5,2.0,2.3,1.9,1.7,2.1,1.8,2.2,1.9,1.7,2.0,2.3,1.9,1.7,2.1,1.8,2.0,2.3,1.9,1.7,2.0,2.2,1.8,1.6,2.0,1.8,2.1,1.9,1.7,2.0,2.2,1.9,1.7,2.0,1.8,2.1,1.9,1.7,2.0,2.3,1.9,1.8,2.0,1.8,2.2,1.9,1.7,2.0,1.8,2.1,1.9,1.7,2.0,2.2,1.9,1.7,2.0,1.8,2.1,1.9,1.7,1.9,2.2,1.8,1.7,2.0,1.8,2.1,1.9,1.7,2.0,1.8,1.6,1.9,2.1,1.8,1.7,1.9,2.1,1.8,1.6,1.9,1.7,2.0,1.8,1.6,1.9,1.7,2.0,1.8,1.9],
[3.1,2.8,3.3,3.0,2.7,3.2,2.9,3.4,3.1,2.8,3.0,3.3,2.9,3.2,2.8,3.1,3.5,3.0,2.8,3.2,2.9,3.3,3.0,2.8,3.2,2.9,3.4,3.1,2.9,3.3,3.0,2.8,3.1,3.4,3.0,3.2,2.9,3.3,3.1,2.8,3.2,3.5,3.1,2.9,3.2,3.0,3.4,3.1,3.0,3.3,3.1,3.5,3.2,3.0,3.4,3.1,3.6,3.3,3.1,3.4,3.7,3.3,3.5,3.2,3.6,3.9,3.4,3.6,3.3,3.8,4.1,3.6,3.9,4.3,3.8,4.1,4.6,4.0,4.4,4.9,4.3,4.7,5.2,4.6,5.0,5.6,4.9,5.4,6.0,5.3,5.8,6.4,5.7,6.2,6.7,6.1,6.5],
[2.7,3.1,2.9,2.6,3.0,3.3,2.8,2.6,3.1,2.9,3.4,3.0,2.7,3.1,2.8,3.3,2.9,2.7,3.2,3.0,2.8,3.3,3.6,3.0,2.8,3.2,2.9,2.7,3.1,3.4,3.0,2.8,3.2,3.5,3.1,2.9,3.3,3.0,2.8,3.2,2.9,3.5,3.1,2.9,3.3,3.0,2.8,3.2,3.5,3.1,2.9,3.3,3.0,3.2,2.9,2.7,3.1,3.4,3.0,2.8,3.2,2.9,3.3,3.0,2.8,3.1,3.4,3.0,2.8,3.2,2.9,3.1,3.3,3.0,2.8,3.1,2.9,3.2,2.9,2.7,3.1,3.3,2.9,2.7,3.0,2.8,3.2,2.9,2.7,3.1,2.8,3.0,2.7,2.9,3.1,2.8,2.9],
[8.6,7.9,9.2,8.1,7.4,8.3,7.6,6.9,7.8,8.5,7.2,6.6,7.4,8.0,6.8,6.3,7.1,7.7,6.5,6.0,6.8,7.4,6.2,5.8,6.5,7.1,5.9,5.5,6.3,6.9,5.7,5.3,6.1,5.6,5.2,6.0,6.6,5.5,5.1,5.8,6.4,5.3,4.9,5.6,6.2,5.2,4.8,5.5,6.1,5.1,4.7,5.4,5.9,5.0,4.6,5.3,5.8,5.0,4.7,5.4,6.0,5.1,4.8,5.5,6.1,5.2,4.9,5.6,5.1,4.8,5.5,6.2,5.3,5.0,5.7,6.4,5.4,5.1,5.8,5.3,5.0,5.7,6.3,5.5,5.2,5.9,6.6,5.7,5.4,6.1,6.8,5.9,5.6,6.3,7.0,6.2,6.6],
[2.0,2.9,2.2,3.1,1.8,2.6,3.2,2.1,2.8,1.9,2.5,3.0,2.2,2.7,1.9,3.2,2.4,2.0,2.9,2.3,3.1,2.1,2.6,1.8,2.7,3.2,2.2,2.8,2.0,2.5,3.3,2.4,1.9,2.8,2.3,3.0,2.1,2.7,1.9,2.6,3.1,2.3,2.8,2.0,2.5,3.2,2.2,2.9,2.4,1.9,2.8,3.3,2.3,2.7,2.0,2.6,3.0,2.2,2.8,2.1,2.5,3.1,2.3,1.9,2.7,2.4,3.0,2.1,2.6,2.0,2.8,2.3,3.1,2.2,2.7,1.9,2.5,2.9,2.1,2.6,2.3,2.9,2.0,2.5,2.8,2.1,2.6,3.0,2.2,2.5,1.9,2.7,2.3,2.8,2.1,2.4,2.6],
[3.2,4.3,3.0,3.9,4.6,3.3,4.1,3.1,4.4,3.6,4.9,3.4,3.9,3.1,4.2,3.5,4.7,3.2,3.8,4.4,3.3,4.0,3.0,4.3,3.6,4.8,3.4,3.9,3.1,4.5,3.7,4.2,3.2,3.8,4.6,3.3,4.0,3.5,4.4,3.1,3.8,4.9,3.6,4.1,3.2,3.9,4.3,3.4,4.7,3.7,4.0,3.3,4.4,3.5,3.9,3.1,4.2,3.6,4.5,3.3,3.9,3.2,4.1,3.7,4.6,3.4,3.8,3.1,4.3,3.5,4.0,3.2,3.7,4.4,3.3,3.9,3.0,4.1,3.6,4.3,3.2,3.8,3.4,4.0,3.1,3.7,4.2,3.3,3.9,3.0,3.6,4.1,3.3,3.8,3.2,3.6,3.5],
[6.3,5.2,6.9,5.6,4.9,6.1,5.4,6.6,5.0,5.8,4.8,6.2,5.3,4.7,5.9,5.1,6.4,4.8,5.5,4.6,5.7,5.0,6.0,4.7,5.4,4.5,5.2,6.1,4.8,5.5,4.4,5.3,4.9,5.8,4.6,5.1,4.3,5.6,4.7,5.2,4.4,5.9,4.8,5.3,4.5,6.3,4.9,5.4,4.6,5.1,4.3,5.5,4.8,5.0,4.4,5.7,4.6,5.2,4.2,4.9,5.4,4.5,5.0,4.2,4.8,5.3,4.4,4.9,4.1,4.7,5.2,4.3,4.8,4.1,4.6,5.1,4.3,4.7,4.0,4.9,4.4,5.0,4.2,4.6,4.1,4.8,4.3,5.2,4.5,4.0,4.7,5.3,4.4,4.9,4.2,4.7,4.5],
[1.5,2.1,1.3,1.9,1.6,2.2,1.4,1.8,1.2,2.0,1.7,1.4,2.1,1.6,1.9,1.3,1.8,2.2,1.5,2.0,1.7,1.4,2.1,1.8,1.5,2.0,1.6,2.3,1.7,1.4,1.9,2.2,1.6,2.0,1.5,1.8,2.2,1.7,1.4,2.0,1.6,2.3,1.8,1.5,2.1,1.7,2.0,1.5,1.8,2.2,1.6,1.9,1.4,2.1,1.7,2.3,1.6,1.9,1.5,2.0,1.7,2.2,1.5,1.9,2.1,1.6,1.8,1.4,2.0,1.7,2.2,1.6,1.9,1.5,2.1,1.7,2.3,1.6,1.9,1.4,1.8,2.1,1.6,2.0,1.5,1.8,2.2,1.6,1.9,1.4,1.7,2.0,1.5,1.9,1.6,2.1,1.8],
[2.7,3.5,2.4,3.2,2.9,3.7,2.6,3.3,2.3,3.1,3.8,2.8,3.4,2.5,3.2,3.9,2.7,3.3,2.4,3.6,2.9,3.2,2.6,3.7,2.8,3.4,2.5,3.1,3.8,2.7,3.5,2.4,3.2,2.9,3.6,2.6,3.3,2.8,3.9,2.7,3.4,2.5,3.1,3.7,2.6,3.3,2.9,3.5,2.6,3.2,3.8,2.8,3.4,2.5,3.6,2.9,3.3,2.4,3.1,3.7,2.7,3.4,2.6,3.2,2.9,3.6,2.5,3.1,3.8,2.8,3.3,2.6,3.5,2.7,3.2,2.4,3.0,3.6,2.8,3.3,2.5,3.1,2.7,3.4,2.9,2.5,3.2,2.7,3.5,2.6,3.1,2.8,3.4,2.5,3.0,2.7,3.1],
[5.6,6.8,5.1,6.2,7.4,5.5,6.4,5.0,6.9,5.7,6.1,5.3,6.6,5.2,7.1,5.6,6.0,5.1,6.5,5.4,7.6,5.8,6.2,5.0,6.1,5.3,5.8,6.8,5.2,5.7,6.4,5.0,5.9,7.2,5.4,6.0,5.1,5.6,6.3,4.9,5.5,6.9,5.2,5.8,5.0,6.4,5.3,7.8,5.6,5.0,6.1,5.4,5.8,4.8,5.5,6.6,5.1,5.7,4.9,5.4,6.2,5.0,5.6,4.8,5.3,6.0,4.9,5.5,4.7,5.9,5.2,6.5,5.0,5.4,4.8,5.8,5.1,6.3,4.9,5.6,5.2,6.1,4.8,5.4,5.9,5.1,6.4,5.3,5.8,5.0,6.7,5.4,6.0,5.2,6.8,5.5,6.2]
];

// KJPK bursts and gapped traces: [hour, Psw]; null marks a data gap
const kjpkBursts = [
[[-3.82,27.0],[-3.75,25.6],[-3.68,25.8],[-3.66,23.8],[-3.63,22.2],[-3.6,23.6],[-3.58,23.0],[-3.55,23.6],[-3.51,22.7],[-3.48,26.0],[-3.44,24.2],[-3.4,21.0],[-3.36,21.9],[-3.33,22.9],[-3.3,24.4],[-3.27,25.6],[-3.22,24.6],[-3.18,25.3],[-3.15,24.4],[-3.11,23.3],[-3.08,18.2],[-3.03,18.1],[-2.96,18.1],[-2.92,15.3],[-2.89,16.8],[-2.85,21.4],[-2.82,23.7],[-2.78,23.0],[-2.75,23.0],[-2.72,19.5],[-2.66,12.0],[-2.62,8.1],[-2.58,5.2],[-2.54,3.6],[-2.5,4.1]],
[[-4.0,14.2],[-3.98,13.1],[-3.95,13.0],[-3.92,11.5],[-3.89,13.0],[-3.86,11.1],[-3.83,12.1],[-3.8,10.8],[-3.76,12.6],[-3.72,12.8],[-3.69,12.5],[-3.66,10.1],[-3.62,11.1],[-3.58,9.4],[-3.54,9.8],[-3.5,8.2],[-3.45,7.4],[-3.4,6.9],[-3.34,7.6],[-3.28,6.2],[-3.22,5.4],[-3.15,5.9],[-3.1,4.8]],
[[-4.0,10.3],[-3.96,10.5],[-3.92,10.2],null,[-3.78,9.8],[-3.74,9.6],[-3.7,9.9],[-3.66,9.7],[-3.62,9.3],[-3.56,8.4],[-3.5,7.6],[-3.42,6.8],[-3.35,6.1]],
[[-2.55,5.0],[-2.5,7.6],[-2.45,9.2],[-2.4,10.4],[-2.37,9.9],[-2.33,11.5],[-2.3,10.0],[-2.26,11.2],[-2.22,12.8],[-2.18,13.5],[-2.14,12.3],[-2.08,15.1],[-2.04,15.4],[-2.0,16.9],[-1.97,14.3],[-1.94,14.2],[-1.9,11.0],[-1.87,12.1],[-1.84,12.3],[-1.81,12.8],[-1.77,13.4],[-1.74,12.9],[-1.7,11.9],[-1.67,12.8],[-1.63,13.1],[-1.61,8.1],[-1.57,5.6],[-1.52,4.3]],
[[-1.58,4.4],[-1.55,6.1],[-1.53,9.8],[-1.51,17.1],[-1.47,14.2],[-1.44,15.4],[-1.41,15.3],[-1.35,18.2],[-1.31,18.5],[-1.27,18.4],[-1.23,17.7],[-1.2,16.1],[-1.17,13.7],[-1.14,16.8],[-1.11,16.6],[-1.07,15.0],[-1.03,13.1],[-1.0,10.9],[-0.96,8.2],[-0.92,6.4],[-0.86,5.1]],
[[-0.95,4.8],[-0.9,7.2],[-0.86,11.4],[-0.83,14.9],[-0.8,13.6],[-0.77,15.8],[-0.74,14.2],[-0.71,17.4],[-0.68,15.1],[-0.65,11.9],[-0.62,9.3],[-0.57,6.6],[-0.52,5.2]],
[[-0.35,4.6],[-0.3,6.8],[-0.26,9.2],[-0.22,12.4],[-0.19,17.0],[-0.17,12.8],[-0.14,9.6],[-0.1,8.1],[-0.06,7.2],[-0.02,9.5],[0.02,12.6],[0.05,14.2],[0.08,13.1],[0.12,15.8],[0.16,16.3],[0.2,14.4],[0.24,12.7],[0.28,10.2],[0.32,7.4],[0.38,5.6]],
[[0.38,4.2],[0.42,6.9],[0.46,9.8],[0.5,13.4],[0.53,14.1],[0.56,13.0],[0.6,13.8],[0.63,10.6],[0.68,7.8],[0.74,5.5]],
[[0.78,6.5],[0.82,9.1],[0.86,11.4],[0.9,13.9],[0.94,14.2],[0.97,15.9],[1.0,15.6],[1.05,15.9],[1.1,15.3],[1.15,15.8],[1.2,16.0],[1.26,16.4],[1.3,17.2],[1.34,18.4],[1.37,20.0],[1.4,20.2],[1.43,18.1],[1.46,18.3],[1.5,19.6],[1.55,20.6],[1.6,20.5],[1.65,20.8],[1.7,20.9],[1.76,20.7],[1.8,20.1],[1.84,19.9],null,[1.88,19.8],[1.92,19.5],[1.96,19.1],[2.0,19.2],[2.04,18.6],[2.08,18.4],[2.12,18.0],[2.15,18.5],null,[2.2,18.4],[2.25,18.6],[2.3,18.4],null,[2.4,18.3],[2.44,18.0],null,[2.54,18.1],[2.57,18.8],[2.6,18.3],[2.64,17.6],[2.68,17.4],[2.72,17.8],[2.76,17.1],[2.8,16.8],[2.84,17.3],[2.88,16.9],[2.92,17.1],null,[3.02,18.3],[3.06,18.0],[3.1,17.6],[3.15,17.9],[3.19,17.5],null,[3.24,19.6],[3.26,21.4],[3.28,22.6],[3.3,20.8],[3.31,19.6],null,[3.55,22.5],[3.57,22.4],null,[3.72,21.3],[3.77,21.1],[3.82,21.2],null,[3.95,20.0],[3.97,21.0],[4.0,20.6]],
[[1.85,4.5],[1.9,6.8],[1.95,9.4],[2.0,11.3],[2.04,10.6],[2.08,11.8],[2.12,10.2],[2.16,12.4],[2.2,11.1],[2.25,12.8],[2.3,11.6],[2.34,13.2],[2.37,12.1],[2.4,10.6],[2.45,11.8],[2.5,10.4],[2.55,11.6],[2.6,12.6],[2.64,11.4],[2.7,9.2],[2.76,7.1],[2.82,5.3]]
];

// KJPK median trace
const kjpkMedian = [2.9,2.8,3.0,2.9,3.1,2.9,2.8,3.0,3.2,3.3,3.1,3.0,2.9,3.0,2.8,2.9,2.7,2.8,2.9,2.7,2.6,2.8,2.7,2.9,2.8,2.7,2.9,3.0,2.8,2.9,2.8,2.7,2.9,2.8,3.0,2.9,2.8,2.9,3.0,2.9,2.8,3.0,2.9,3.1,2.9,3.0,2.9,3.0,3.1,3.2,3.0,2.9,3.0,2.8,2.9,3.0,2.9,2.8,2.9,3.0,2.9,3.0,3.1,2.9,2.8,3.0,2.9,2.8,2.9,2.7,2.8,2.9,2.7,2.8,2.7,2.8,2.7,2.6,2.8,2.7,2.6,2.7,2.6,2.8,2.7,2.6,2.7,2.6,2.7,2.5,2.6,2.7,2.6,2.7,2.6,2.5,2.6];

const panels = [
  {tag: "(a)", note: "CDR 105 events", traces: cdrTraces, bursts: cdrBursts, median: cdrMedian,
   left: 57, width: 603, noteX: 433, yTitle: true},
  {tag: "(b)", note: "KJPK 43 events", traces: kjpkTraces, bursts: kjpkBursts, median: kjpkMedian,
   left: 722, width: 604, noteX: 1101, yTitle: false}
];

const svg = d3.select("#chart");
const plotTop = 43, plotBottom = 483;
const minorHours = d3.range(-24, 25).map(k => k / 6);
const fontStack = "'Open Sans',Lato,sans-serif";

svg.append("text").attr("x", 669).attr("y", 27).attr("text-anchor", "middle")
  .attr("font-size", 22).text("Psw Traces for Category A Premidnight MPEs");

panels.forEach((p, pi) => {
  const x = d3.scaleLinear().domain([-4, 4]).range([p.left, p.left + p.width]);
  const y = d3.scaleLinear().domain([0, 25]).range([plotBottom, plotTop]);
  const clipId = "clip" + pi;
  svg.append("clipPath").attr("id", clipId).append("rect")
    .attr("x", p.left).attr("y", plotTop).attr("width", p.width).attr("height", plotBottom - plotTop);

  const plot = svg.append("g").attr("clip-path", `url(#${clipId})`);

  const sampled = d3.line()
    .x((d, i) => x(sampleStartHour + i * sampleStepHours))
    .y(d => y(d));
  const gapped = d3.line()
    .defined(d => d !== null)
    .x(d => x(d[0])).y(d => y(d[1]));

  plot.selectAll("path.trace").data(p.traces).join("path")
    .attr("class", "trace").attr("d", sampled)
    .attr("fill", "none").attr("stroke", "#000").attr("stroke-width", 1.4);

  plot.selectAll("path.burst").data(p.bursts).join("path")
    .attr("class", "burst").attr("d", gapped)
    .attr("fill", "none").attr("stroke", "#000").attr("stroke-width", 1.1);

  // epoch marker
  plot.append("line").attr("x1", x(0)).attr("x2", x(0)).attr("y1", y(25)).attr("y2", y(0))
    .attr("stroke", "#000").attr("stroke-width", 2).attr("stroke-dasharray", "5,3");

  plot.append("path").datum(p.median).attr("d", sampled)
    .attr("fill", "none").attr("stroke", "#e6c300").attr("stroke-width", 3.5)
    .attr("stroke-linejoin", "round");

  // axes, ticks pointing into the plot
  const fmt = d => Number.isInteger(d) ? String(d) : "";
  const styleAxis = g => {
    g.select(".domain").remove();
    g.selectAll("line").attr("stroke", "#000").attr("stroke-width", 1);
    g.selectAll("text").attr("font-size", 15).attr("font-family", fontStack).attr("fill", "#111");
  };
  svg.append("g").attr("transform", `translate(0,${plotBottom})`)
    .call(d3.axisBottom(x).tickValues(minorHours).tickSize(-4).tickFormat("")).call(styleAxis);
  svg.append("g").attr("transform", `translate(0,${plotBottom})`)
    .call(d3.axisBottom(x).tickValues(hourTicks).tickSize(-6).tickPadding(14).tickFormat(fmt)).call(styleAxis);
  svg.append("g").attr("transform", `translate(0,${plotTop})`)
    .call(d3.axisTop(x).tickValues(minorHours).tickSize(-3).tickFormat("")).call(styleAxis);
  svg.append("g").attr("transform", `translate(0,${plotTop})`)
    .call(d3.axisTop(x).tickValues(hourTicks).tickSize(-6).tickFormat("")).call(styleAxis);
  svg.append("g").attr("transform", `translate(${p.left},0)`)
    .call(d3.axisLeft(y).tickValues(pswMinorTicks).tickSize(-5).tickFormat("")).call(styleAxis);
  svg.append("g").attr("transform", `translate(${p.left},0)`)
    .call(d3.axisLeft(y).tickValues(pswTicks).tickSize(-12).tickPadding(5).tickFormat(d => String(d))).call(styleAxis);
  svg.append("g").attr("transform", `translate(${p.left + p.width},0)`)
    .call(d3.axisRight(y).tickValues(pswMinorTicks).tickSize(-5).tickFormat("")).call(styleAxis);
  svg.append("g").attr("transform", `translate(${p.left + p.width},0)`)
    .call(d3.axisRight(y).tickValues(pswTicks).tickSize(-12).tickFormat("")).call(styleAxis);

  svg.append("rect").attr("x", p.left).attr("y", plotTop).attr("width", p.width).attr("height", plotBottom - plotTop)
    .attr("fill", "none").attr("stroke", "#000").attr("stroke-width", 1.5);

  svg.append("text").attr("x", p.left - 46).attr("y", 50).attr("font-size", 16).text(p.tag);
  svg.append("text").attr("x", p.noteX).attr("y", 80).attr("font-size", 17.5).text(p.note);
  svg.append("text").attr("x", p.left + p.width / 2).attr("y", 538).attr("text-anchor", "middle")
    .attr("font-size", 17).style("white-space", "pre").text("Epoch Time  (hours)");
  if (p.yTitle) {
    svg.append("text").attr("transform", "translate(24,263) rotate(-90)").attr("text-anchor", "middle")
      .attr("font-size", 18).style("white-space", "pre").text("Psw  (nPa)");
  }
});
</script>
</body></html>
